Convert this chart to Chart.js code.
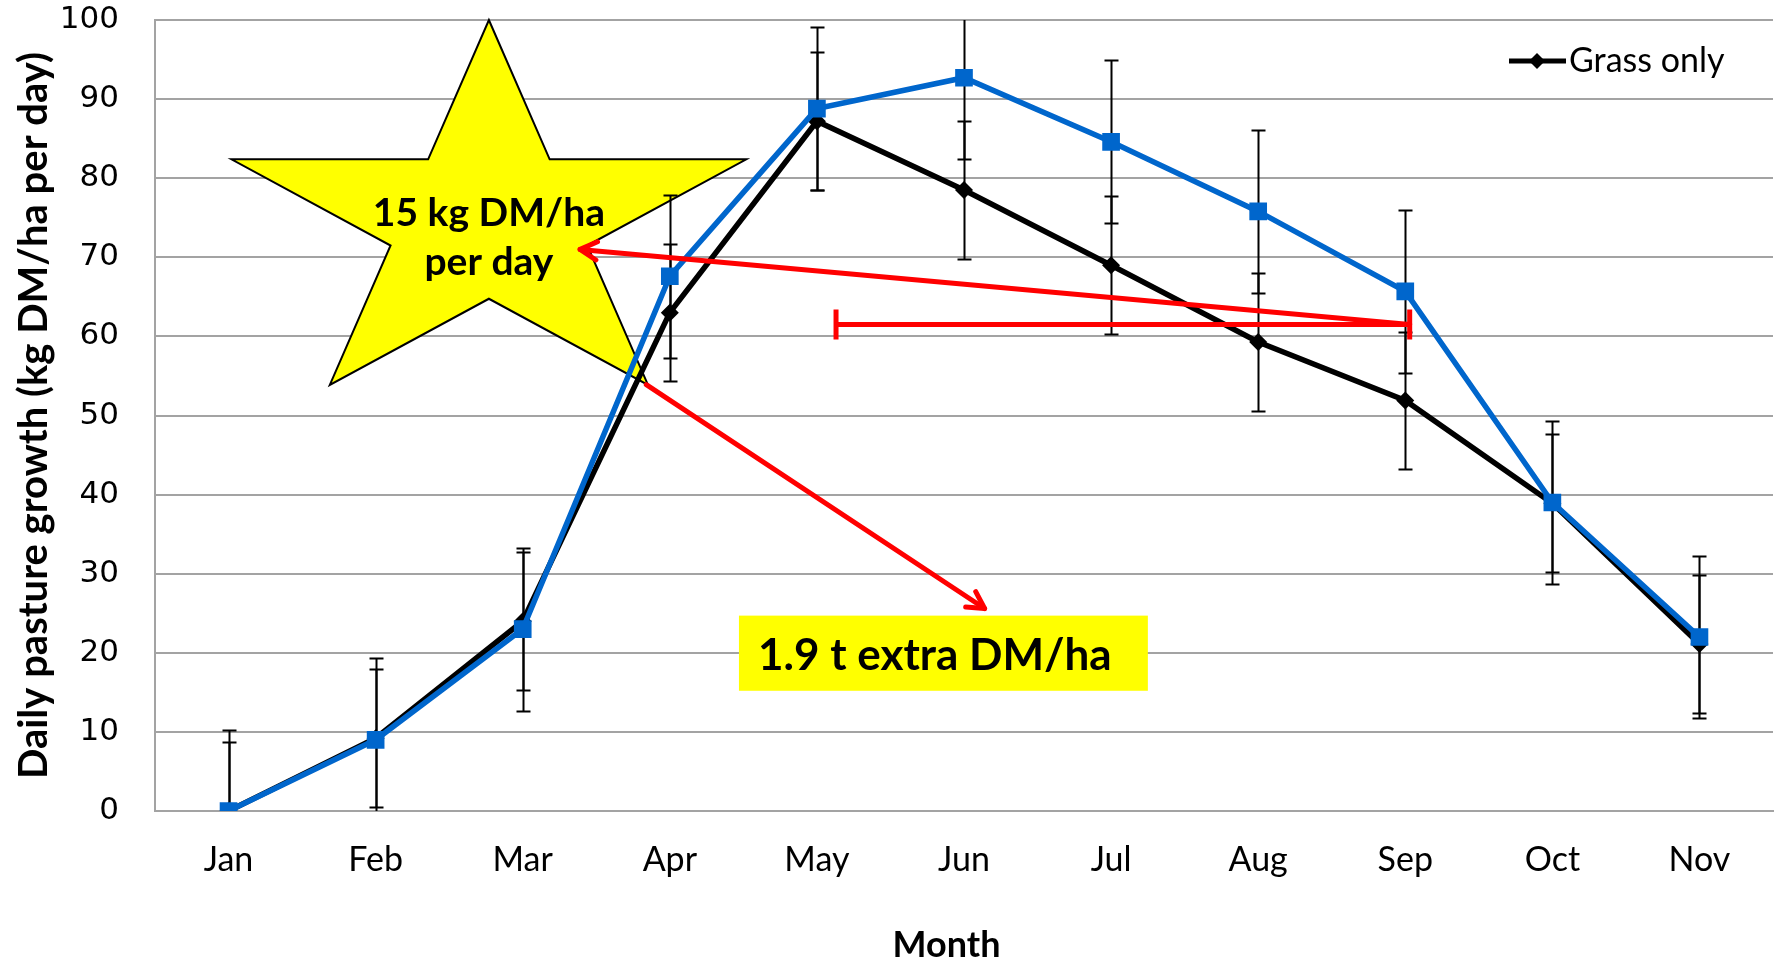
<!DOCTYPE html>
<html>
<head>
<meta charset="utf-8">
<script src="https://cdn.jsdelivr.net/npm/chart.js@4.4.0/dist/chart.umd.min.js"></script>
<style>
  html, body { margin: 0; padding: 0; background: #fff; }
  #wrap { width: 1779px; height: 963px; }
</style>
</head>
<body>
<div id="wrap"><canvas id="growthChart" width="1779" height="963"></canvas></div>
<script>
// ---- DATA ----
const months = ["Jan", "Feb", "Mar", "Apr", "May", "Jun", "Jul", "Aug", "Sep", "Oct", "Nov"];

// black series – the only one named in the legend
const grassOnly = [0, 9.2, 24.0, 63.0, 87.2, 78.5, 69.0, 59.3, 51.9, 38.9, 21.1];
const grassOnlyErr = [8.7, 8.7, 8.7, 8.7, 8.7, 8.7, 8.7, 8.7, 8.7, 8.7, 8.7];

// blue series – no legend entry in the original
const mixedSward = [0, 9.0, 23.0, 67.6, 88.8, 92.7, 84.6, 75.8, 65.7, 39.0, 22.0];
const mixedSwardErr = [10.3, 10.3, 10.3, 10.3, 10.3, 10.3, 10.3, 10.3, 10.3, 10.3, 10.3];

const yMin = 0, yMax = 100, yStep = 10;

// annotation texts
const starLines = ["15 kg DM/ha", "per day"];
const boxText = "1.9 t extra DM/ha";

// annotation anchors, in axis units (category index, y value)
const star = { x: 1.77, y: 74.5, rx: 1.84, ry: 25.5, line1Y: 74.0, line2Y: 67.7 };
const extraBox = { x1: 3.47, x2: 6.25, y1: 24.7, y2: 15.2, textX: 3.60, textY: 17.8 };
const bracket = { x1: 4.13, x2: 8.03, y: 61.5 };
const arrowToStar = { x1: 8.03, y1: 61.5, x2: 2.39, y2: 71.0 };
const arrowToBox = { x1: 2.84, y1: 53.9, x2: 5.14, y2: 25.6 };

const RED = "#ff0000";
const BLUE = "#0066cc";
const GRID = "#a3a3a3";
const CAL = "Lato, 'Open Sans', sans-serif";

const errorsFor = { 0: grassOnlyErr, 1: mixedSwardErr };

function arrowHead(ctx, x1, y1, x2, y2, len) {
    const a = Math.atan2(y2 - y1, x2 - x1);
    const spread = 0.5;
    ctx.beginPath();
    ctx.moveTo(x2 - len * Math.cos(a - spread), y2 - len * Math.sin(a - spread));
    ctx.lineTo(x2, y2);
    ctx.lineTo(x2 - len * Math.cos(a + spread), y2 - len * Math.sin(a + spread));
    ctx.stroke();
}

// star + error bars go under the lines
const underlay = {
    id: "underlay",
    beforeDatasetsDraw(chart) {
        const { ctx, chartArea, scales: { x, y } } = chart;

        // ---- yellow star ----
        const cx = x.getPixelForValue(star.x);
        const cy = y.getPixelForValue(star.y);
        const rx = x.getPixelForValue(star.x + star.rx) - cx;
        const ry = y.getPixelForValue(star.y - star.ry) - cy;
        ctx.save();
        ctx.beginPath();
        for (let k = 0; k < 10; k++) {
            const ang = -Math.PI / 2 + k * Math.PI / 5;
            const r = k % 2 === 0 ? 1 : 0.382;
            const px = cx + Math.cos(ang) * rx * r;
            const py = cy + Math.sin(ang) * ry * r;
            if (k === 0) ctx.moveTo(px, py); else ctx.lineTo(px, py);
        }
        ctx.closePath();
        ctx.fillStyle = "#ffff00";
        ctx.fill();
        ctx.lineWidth = 2;
        ctx.strokeStyle = "#000";
        ctx.stroke();

        ctx.fillStyle = "#000";
        ctx.font = "bold 39px " + CAL;
        ctx.textAlign = "center";
        ctx.textBaseline = "alphabetic";
        ctx.fillText(starLines[0], cx, y.getPixelForValue(star.line1Y));
        ctx.fillText(starLines[1], cx, y.getPixelForValue(star.line2Y));
        ctx.restore();

        // ---- error bars ----
        ctx.save();
        ctx.beginPath();
        ctx.rect(chartArea.left, chartArea.top, chartArea.width, chartArea.height);
        ctx.clip();
        ctx.strokeStyle = "#000";
        ctx.lineWidth = 2;
        chart.data.datasets.forEach((ds, d) => {
            const errs = errorsFor[d];
            ds.data.forEach((v, i) => {
                const px = Math.round(x.getPixelForValue(i)) + 0.5;
                const hi = Math.round(y.getPixelForValue(v + errs[i])) + 0.5;
                const lo = Math.round(y.getPixelForValue(v - errs[i])) + 0.5;
                ctx.beginPath();
                ctx.moveTo(px, hi); ctx.lineTo(px, lo);
                ctx.moveTo(px - 7, hi); ctx.lineTo(px + 7, hi);
                ctx.moveTo(px - 7, lo); ctx.lineTo(px + 7, lo);
                ctx.stroke();
            });
        });
        ctx.restore();
    }
};

// red arrows, bracket, yellow box, legend on top
const overlay = {
    id: "overlay",
    afterDatasetsDraw(chart) {
        const { ctx, scales: { x, y } } = chart;
        ctx.save();
        ctx.strokeStyle = RED;
        ctx.lineWidth = 5;
        ctx.lineCap = "butt";

        // horizontal bracket
        const bx1 = x.getPixelForValue(bracket.x1), bx2 = x.getPixelForValue(bracket.x2);
        const by = y.getPixelForValue(bracket.y);
        ctx.beginPath();
        ctx.moveTo(bx1, by); ctx.lineTo(bx2, by);
        ctx.moveTo(bx1, by - 15); ctx.lineTo(bx1, by + 15);
        ctx.moveTo(bx2, by - 15); ctx.lineTo(bx2, by + 15);
        ctx.stroke();

        // arrows
        ctx.lineCap = "round";
        ctx.lineJoin = "round";
        [arrowToStar, arrowToBox].forEach(a => {
            const x1 = x.getPixelForValue(a.x1), y1 = y.getPixelForValue(a.y1);
            const x2 = x.getPixelForValue(a.x2), y2 = y.getPixelForValue(a.y2);
            ctx.beginPath();
            ctx.moveTo(x1, y1); ctx.lineTo(x2, y2);
            ctx.stroke();
            arrowHead(ctx, x1, y1, x2, y2, 19);
        });

        // yellow text box
        const px1 = x.getPixelForValue(extraBox.x1), px2 = x.getPixelForValue(extraBox.x2);
        const py1 = y.getPixelForValue(extraBox.y1), py2 = y.getPixelForValue(extraBox.y2);
        ctx.fillStyle = "#ffff00";
        ctx.fillRect(px1, py1, px2 - px1, py2 - py1);
        ctx.fillStyle = "#000";
        ctx.font = "bold 44px " + CAL;
        ctx.textAlign = "left";
        ctx.textBaseline = "alphabetic";
        ctx.fillText(boxText, x.getPixelForValue(extraBox.textX), y.getPixelForValue(extraBox.textY));
        ctx.restore();
    },
    afterDraw(chart) {
        // legend: only the black series is listed
        const { ctx, chartArea } = chart;
        const ds = chart.data.datasets[0];
        const lx = chartArea.right - 264, ly = chartArea.top + 41;
        ctx.save();
        ctx.strokeStyle = ds.borderColor;
        ctx.lineWidth = 5;
        ctx.beginPath();
        ctx.moveTo(lx, ly); ctx.lineTo(lx + 57, ly);
        ctx.stroke();
        ctx.fillStyle = ds.borderColor;
        ctx.beginPath();
        ctx.moveTo(lx + 28, ly - 8); ctx.lineTo(lx + 36, ly);
        ctx.lineTo(lx + 28, ly + 8); ctx.lineTo(lx + 20, ly);
        ctx.closePath();
        ctx.fill();
        ctx.font = "34px " + CAL;
        ctx.textAlign = "left";
        ctx.textBaseline = "middle";
        ctx.fillText(ds.label, lx + 60, ly);
        ctx.restore();
    }
};

const ctx = document.getElementById("growthChart").getContext("2d");

new Chart(ctx, {
    type: "line",
    data: {
        labels: months,
        datasets: [
            {
                label: "Grass only",
                data: grassOnly,
                borderColor: "#000000",
                backgroundColor: "#000000",
                borderWidth: 5.5,
                pointStyle: "rectRot",
                pointRadius: 9,
                pointBorderWidth: 0,
                tension: 0,
                order: 1
            },
            {
                label: "Grass + clover",
                data: mixedSward,
                borderColor: BLUE,
                backgroundColor: BLUE,
                borderWidth: 5.5,
                pointStyle: "rect",
                pointRadius: 12.5,
                pointBorderWidth: 0,
                tension: 0,
                order: 0
            }
        ]
    },
    options: {
        responsive: false,
        animation: false,
        layout: { autoPadding: false, padding: { left: 0, right: 6, top: 20, bottom: 0 } },
        plugins: {
            legend: { display: false },
            tooltip: { enabled: false }
        },
        scales: {
            x: {
                offset: true,
                grid: { display: false, drawTicks: false },
                border: { display: true, color: GRID, width: 2 },
                ticks: {
                    color: "#000",
                    padding: 29,
                    font: { family: CAL, size: 34 }
                },
                title: {
                    display: true,
                    // trailing nbsp nudges the centred title a little left, as in the original
                    text: "Month\u00a0\u00a0\u00a0\u00a0",
                    color: "#000",
                    padding: 0,
                    font: { family: CAL, size: 36, weight: "bold", lineHeight: 1 }
                },
                afterFit: scale => { scale.height = 152; }
            },
            y: {
                min: yMin,
                max: yMax,
                // invisible tick marks keep the labels away from the axis
                // without the tick padding inflating the top of the layout
                grid: { color: GRID, lineWidth: 2, drawTicks: true, tickLength: 36, tickColor: "rgba(0,0,0,0)" },
                border: { display: true, color: GRID, width: 2 },
                ticks: {
                    stepSize: yStep,
                    color: "#000",
                    padding: 0,
                    font: { family: "'DejaVu Sans', sans-serif", size: 31 }
                },
                title: {
                    display: true,
                    text: "Daily pasture growth (kg DM/ha per day)",
                    color: "#000",
                    padding: { top: 14, bottom: 0 },
                    font: { family: CAL, size: 40, weight: "bold", lineHeight: 1 }
                },
                afterFit: scale => { scale.width = 155; }
            }
        }
    },
    plugins: [underlay, overlay]
});
</script>
</body>
</html>
